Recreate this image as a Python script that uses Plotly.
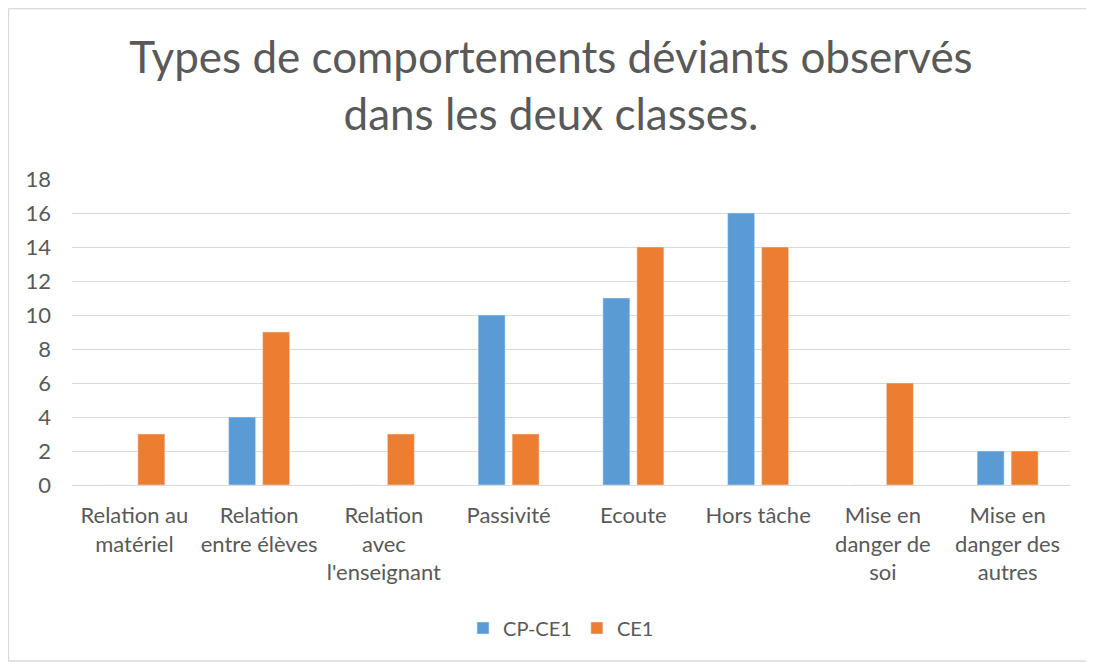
import plotly.graph_objects as go

categories = ["Relation au<br>matériel", "Relation<br>entre élèves", "Relation<br>avec<br>l'enseignant",
              "Passivité", "Ecoute", "Hors tâche", "Mise en<br>danger de<br>soi", "Mise en<br>danger des<br>autres"]
cp_ce1 = [0, 4, 0, 10, 11, 16, 0, 2]
ce1 = [3, 9, 3, 3, 14, 14, 6, 2]
y_ticks = [0, 2, 4, 6, 8, 10, 12, 14, 16, 18]

FONT = "Lato"
GREY = "#595959"
OFF = 8  # page body margin

fig = go.Figure()
fig.add_trace(go.Bar(name="CP-CE1", x=categories, y=cp_ce1, marker_color="#5B9BD5"))
fig.add_trace(go.Bar(name="CE1", x=categories, y=ce1, marker_color="#ED7D31"))

W, H = 1094 - OFF, 662 - OFF
L, T = 72 - OFF, 179 - OFF
R = W - (1070 - OFF)
B = H - (485 - OFF)
pw, ph = W - L - R, H - T - B

def px(x):
    return (x - OFF - L) / pw

def py(y):
    return (H - B - (y - OFF)) / ph

fig.update_layout(
    width=W, height=H,
    margin=dict(l=L, r=R, t=T, b=B, autoexpand=False),
    paper_bgcolor="white", plot_bgcolor="white",
    barmode="group", bargap=0.455, bargroupgap=0.206,
    title=dict(text="Types de comportements déviants observés<br>dans les deux classes.",
               x=0.5, xanchor="center", y=1 - (73 - OFF) / H, yanchor="middle",
               font=dict(family=FONT, size=44, color=GREY)),
    font=dict(family=FONT, color=GREY, size=22),
    xaxis=dict(showgrid=False, showline=False, ticks="", tickangle=0, ticklabelstandoff=15,
               tickfont=dict(size=22, color=GREY, family=FONT)),
    yaxis=dict(range=[0, 18], tickvals=y_ticks, showgrid=True, gridcolor="#D9D9D9", gridwidth=1.3,
               zeroline=True, zerolinecolor="#D9D9D9", zerolinewidth=1.3, showline=False,
               ticks="", tickfont=dict(size=22, color=GREY, family=FONT), ticklabelstandoff=20),
    legend=dict(orientation="h", x=px(471) - 0.008, xanchor="left", y=py(628), yanchor="middle",
                font=dict(size=20, color=GREY, family=FONT), itemwidth=30, traceorder="normal"),
    showlegend=True,
    shapes=[dict(type="rect", xref="paper", yref="paper", x0=px(8.5), x1=px(1090), y0=py(661), y1=py(8.5),
                 line=dict(color="#D9D9D9", width=1.3), fillcolor="rgba(0,0,0,0)", layer="below")],
)

fig.write_html("out.html")
